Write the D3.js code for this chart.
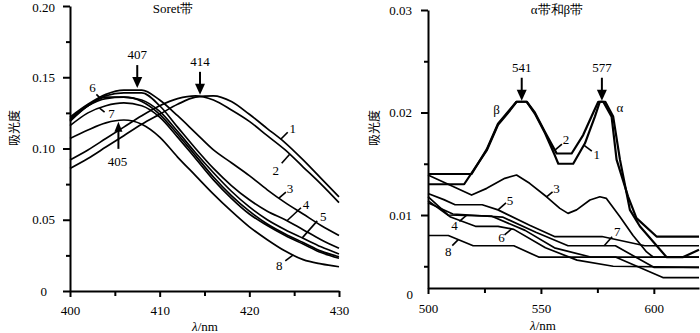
<!DOCTYPE html>
<html><head><meta charset="utf-8">
<script src="https://cdn.jsdelivr.net/npm/d3@7"></script>
<style>body{margin:0;background:#fff}svg{display:block} svg text{font-family:"Liberation Serif","DejaVu Serif",serif;}
svg text.cjk{font-family:"Noto Sans CJK SC","Noto Sans CJK JP",sans-serif;}</style>
</head><body><svg id="c" width="700" height="333"></svg>
<script>
// ---------- Left panel: Soret band ----------
const soretLambda = [400,402,404,406,408,410,412,414,416,418,420,422,424,426,428,430];
const soret1 = [0.086,0.093,0.101,0.109,0.117,0.124,0.131,0.136,0.137,0.133,0.124,0.114,0.104,0.092,0.079,0.066];
const soret2 = [0.092,0.099,0.107,0.115,0.123,0.130,0.135,0.137,0.134,0.127,0.119,0.109,0.099,0.087,0.075,0.062];
const soret3 = [0.122,0.131,0.138,0.141,0.141,0.134,0.123,0.111,0.099,0.090,0.081,0.071,0.062,0.054,0.046,0.039];
const soret4 = [0.120,0.130,0.137,0.139,0.139,0.130,0.115,0.100,0.086,0.074,0.064,0.056,0.050,0.043,0.036,0.030];
const soret5 = [0.121,0.130,0.135,0.136,0.134,0.126,0.112,0.097,0.083,0.070,0.059,0.050,0.043,0.037,0.031,0.026];
const soret6 = [0.119,0.130,0.136,0.136,0.133,0.124,0.110,0.095,0.080,0.067,0.056,0.047,0.040,0.034,0.028,0.024];
const soret7 = [0.116,0.125,0.130,0.132,0.130,0.122,0.108,0.093,0.078,0.065,0.054,0.046,0.039,0.033,0.027,0.023];
const soret8 = [0.107,0.113,0.118,0.120,0.117,0.108,0.094,0.081,0.068,0.056,0.045,0.036,0.028,0.022,0.019,0.017];
const soretSeries = [soret1,soret2,soret3,soret4,soret5,soret6,soret7,soret8];
const soretPeaks = [{label:"407", at:407.5, curve:2}, {label:"414", at:414.5, curve:1}];
const soretPeakUp = {label:"405", at:405.4, curve:7};
const soretLabelAt = [423.5, 424.5, 423.3, 424.2, 425.9, 403.5, 403.3, 424.9];
const leftXTicks = [400,410,420,430], leftXMinor = [405,415,425];
const leftYTicks = [0,0.05,0.10,0.15,0.20], leftYMinor = [0.025,0.075,0.125,0.175];

// ---------- Right panel: alpha & beta bands ----------
const ab1 = [[500,0.0130],[516,0.0130],[526,0.0163],[531,0.0188],[536.3,0.0202],[539.2,0.02105],[543.7,0.02105],[547.3,0.0199],[551.8,0.0180],[556.2,0.0158],[557.7,0.0150],[564.3,0.0150],[569.5,0.0170],[573.9,0.0196],[576.1,0.02105],[578.5,0.02105],[582,0.0196],[585,0.0154],[589.4,0.0105],[593.8,0.0089],[605.6,0.0059],[613,0.0059],[620,0.0066]];
const ab2 = [[500,0.0140],[519.3,0.0140],[526,0.0164],[531,0.0189],[536.3,0.0203],[539.2,0.02105],[543.7,0.02105],[547.3,0.0200],[551.8,0.0181],[555.5,0.0166],[557,0.0160],[563.6,0.0160],[568.7,0.0178],[573,0.0199],[575.4,0.02105],[577.6,0.02105],[581.3,0.0196],[583.5,0.0154],[588.6,0.0118],[592.3,0.0097],[601.2,0.0079],[620,0.0079]];
const ab3 = [[500,0.0139],[519.3,0.01195],[526,0.0126],[534,0.01358],[539.2,0.0139],[545,0.01309],[552.5,0.01178],[558.4,0.01065],[562,0.01016],[565.8,0.0105],[571.7,0.01146],[576.1,0.01178],[579,0.01162],[585,0.00983],[590.8,0.0080],[596.8,0.0064],[599.7,0.0059],[620,0.0059]];
const ab4 = [[500,0.0118],[509,0.0100],[528,0.0099],[543,0.0085],[556,0.0068],[572,0.0059],[620,0.0059]];
const ab5 = [[500,0.0121],[507,0.0115],[512,0.0110],[524,0.0110],[531,0.0105],[545,0.0090],[556,0.0079],[577,0.0079],[596,0.0070],[620,0.0070]];
const ab6 = [[500,0.0114],[510,0.0098],[521,0.0089],[531,0.0089],[538,0.0086],[552,0.0068],[566,0.0056],[582,0.0050],[620,0.0049]];
const ab7 = [[500,0.0112],[511,0.0101],[533,0.0098],[548,0.0083],[562,0.0070],[583,0.0070],[600,0.0049],[620,0.0049]];
const ab8 = [[500,0.0080],[509,0.0080],[520,0.0070],[538,0.0070],[549,0.0059],[583,0.0059],[604,0.0039],[620,0.0039]];
const abSeries = [ab1,ab2,ab3,ab4,ab5,ab6,ab7,ab8];
const abPeaks = [{label:"541", at:541.5}, {label:"577", at:577}];
const abLabelAt = [569, 556.2, 552.5, 517, 531, 537, 578, 513.4];
const rightXTicks = [500,550,600], rightXMinor = [525,575];
const rightYTicks = [0.01,0.02,0.03], rightYMinor = [0.005,0.015,0.025];

// ---------- layout ----------
const svg = d3.select("#c");

const xL = d3.scaleLinear([400,430],[70,339]);
const yL = d3.scaleLinear([0,0.2],[291,6]);
const xR = d3.scaleLinear([500,620],[428,699]);
const yR = d3.scaleLinear([0.00288,0.03],[288,10]);

function interp(pts, l){
  for(let i=0;i<pts.length-1;i++){
    const a=pts[i], b=pts[i+1];
    if(l>=a[0] && l<=b[0]) return a[1]+(b[1]-a[1])*(l-a[0])/(b[0]-a[0]);
  }
  return pts[pts.length-1][1];
}

function styleAxis(g){
  g.attr("font-family",null).attr("font-size",null);
  g.selectAll("path.domain").attr("stroke","#000").attr("stroke-width",2);
  g.selectAll(".tick line").attr("stroke","#000").attr("stroke-width",2);
  g.selectAll("text").style("font-size","13px").attr("fill","#000");
}

// Left axes
const gLy = svg.append("g").attr("transform","translate(70,0)")
  .call(d3.axisLeft(yL).tickValues(leftYTicks).tickSize(7).tickSizeOuter(0).tickPadding(8)
    .tickFormat(d=> d===0 ? "0" : d3.format(".2f")(d)));
styleAxis(gLy);
gLy.selectAll(".tick text").filter(d=>d===0).attr("x",-23);
gLy.selectAll(".tick text").filter(d=>d===0.2).attr("dy","0.45em");
const gLym = svg.append("g").attr("transform","translate(70,0)")
  .call(d3.axisLeft(yL).tickValues(leftYMinor).tickSize(4).tickFormat(""));
gLym.select(".domain").remove(); styleAxis(gLym);
const gLx = svg.append("g").attr("transform","translate(0,291)")
  .call(d3.axisBottom(xL).tickValues(leftXTicks).tickSize(6).tickSizeOuter(0).tickPadding(9));
styleAxis(gLx);
const gLxm = svg.append("g").attr("transform","translate(0,291)")
  .call(d3.axisBottom(xL).tickValues(leftXMinor).tickSize(5).tickFormat(""));
gLxm.select(".domain").remove(); styleAxis(gLxm);

// Right axes
const gRy = svg.append("g").attr("transform","translate(428,0)")
  .call(d3.axisLeft(yR).tickValues(rightYTicks).tickSize(7).tickSizeOuter(0).tickPadding(9)
    .tickFormat(d3.format(".2f")));
styleAxis(gRy);
const gRym = svg.append("g").attr("transform","translate(428,0)")
  .call(d3.axisLeft(yR).tickValues(rightYMinor).tickSize(4).tickFormat(""));
gRym.select(".domain").remove(); styleAxis(gRym);
const gRx = svg.append("g").attr("transform","translate(0,288)")
  .call(d3.axisBottom(xR).tickValues(rightXTicks).tickSize(6).tickSizeOuter(0).tickPadding(10));
styleAxis(gRx);
const gRxm = svg.append("g").attr("transform","translate(0,288)")
  .call(d3.axisBottom(xR).tickValues(rightXMinor).tickSize(5).tickFormat(""));
gRxm.select(".domain").remove(); styleAxis(gRxm);

function txt(x,y,s,opt={}){
  return svg.append("text").attr("x",x).attr("y",y).attr("text-anchor",opt.anchor||"middle")
    .style("font-size",(opt.size||13)+"px").attr("fill","#000").text(s);
}
txt(413,299,"0",{anchor:"end"});

// Titles & axis labels
txt(173,13,"Soret带");
txt(557,14,"α带和β带");
function xlab(cx,cy){
  const t = svg.append("text").attr("x",cx).attr("y",cy).attr("text-anchor","middle")
    .style("font-size","13px");
  t.append("tspan").attr("font-style","italic").text("λ");
  t.append("tspan").text("/nm");
}
xlab(205,331); xlab(543,330);
function ylab(cx,cy){
  svg.append("text").attr("class","cjk").attr("transform",`translate(${cx},${cy}) rotate(-90)`)
    .attr("text-anchor","middle").style("font-size","12px")
    .attr("dy","0.35em").text("吸光度");
}
ylab(15,128); ylab(375,128);

// Left curves
const lineL = d3.line().x(d=>xL(d[0])).y(d=>yL(d[1])).curve(d3.curveMonotoneX);
const leftPts = soretSeries.map(s => soretLambda.map((l,i)=>[l,s[i]]));
svg.append("g").selectAll("path").data(leftPts).join("path")
  .attr("d",lineL).attr("fill","none").attr("stroke","#000").attr("stroke-width",1.7);

// Right curves
const lineR = d3.line().x(d=>xR(d[0])).y(d=>yR(d[1]));
svg.append("g").selectAll("path").data(abSeries).join("path")
  .attr("d",lineR).attr("fill","none").attr("stroke","#000")
  .attr("stroke-width",(d,i)=> i<2 ? 2.2 : 1.7).attr("stroke-linejoin","round");

// arrows
function arrowDown(x, tip, label){
  svg.append("line").attr("x1",x).attr("x2",x).attr("y1",tip-23).attr("y2",tip-8)
    .attr("stroke","#000").attr("stroke-width",2);
  svg.append("path").attr("d",`M${x-5},${tip-11}L${x+5},${tip-11}L${x},${tip}Z`).attr("fill","#000");
  txt(x, tip-29, label);
}
function arrowUp(x, tip, label){
  svg.append("line").attr("x1",x).attr("x2",x).attr("y1",tip+8).attr("y2",tip+27)
    .attr("stroke","#000").attr("stroke-width",2);
  svg.append("path").attr("d",`M${x-4},${tip+10}L${x+4},${tip+10}L${x},${tip}Z`).attr("fill","#000");
  txt(x-1, tip+44, label);
}
soretPeaks.forEach(p=>{
  const v = interp(leftPts[p.curve], p.at);
  arrowDown(xL(p.at), yL(v)-2, p.label);
});
{
  const v = interp(leftPts[soretPeakUp.curve], soretPeakUp.at);
  arrowUp(xL(soretPeakUp.at), yL(v)+1, soretPeakUp.label);
}
abPeaks.forEach(p=>{
  arrowDown(xR(p.at), yR(0.02105)-1, p.label);
});
txt(xR(541)-24, yR(0.021)+12, "β");
txt(xR(577)+18, yR(0.021)+10, "α");

// number labels with leaders
const leftOffsets = [[7,-7,12,-6],[-8,9,-14,21],[7,-6,11,-5],[14,-13,19,-12],[15,-17,21,-17],[-5,-5,-9,-7],[5,4,12,10],[-8,6,-14,15]];
const rightOffsets = [[8,6,13,14],[7,-6,11,-6],[6,-5,10,-4],[-7,6,-12,15],[8,-7,12,-5],[-7,6,-10,13],[8,-9,13,-10],[-6,6,-10,16]];
function labelAt(x,y,o,s){
  svg.append("line").attr("x1",x).attr("y1",y).attr("x2",x+o[0]).attr("y2",y+o[1])
    .attr("stroke","#000").attr("stroke-width",1.6);
  txt(x+o[2], y+o[3], s);
}
soretLabelAt.forEach((l,i)=>{
  labelAt(xL(l), yL(interp(leftPts[i], l)), leftOffsets[i], String(i+1));
});
abLabelAt.forEach((l,i)=>{
  labelAt(xR(l), yR(interp(abSeries[i], l)), rightOffsets[i], String(i+1));
});
</script></body></html>
